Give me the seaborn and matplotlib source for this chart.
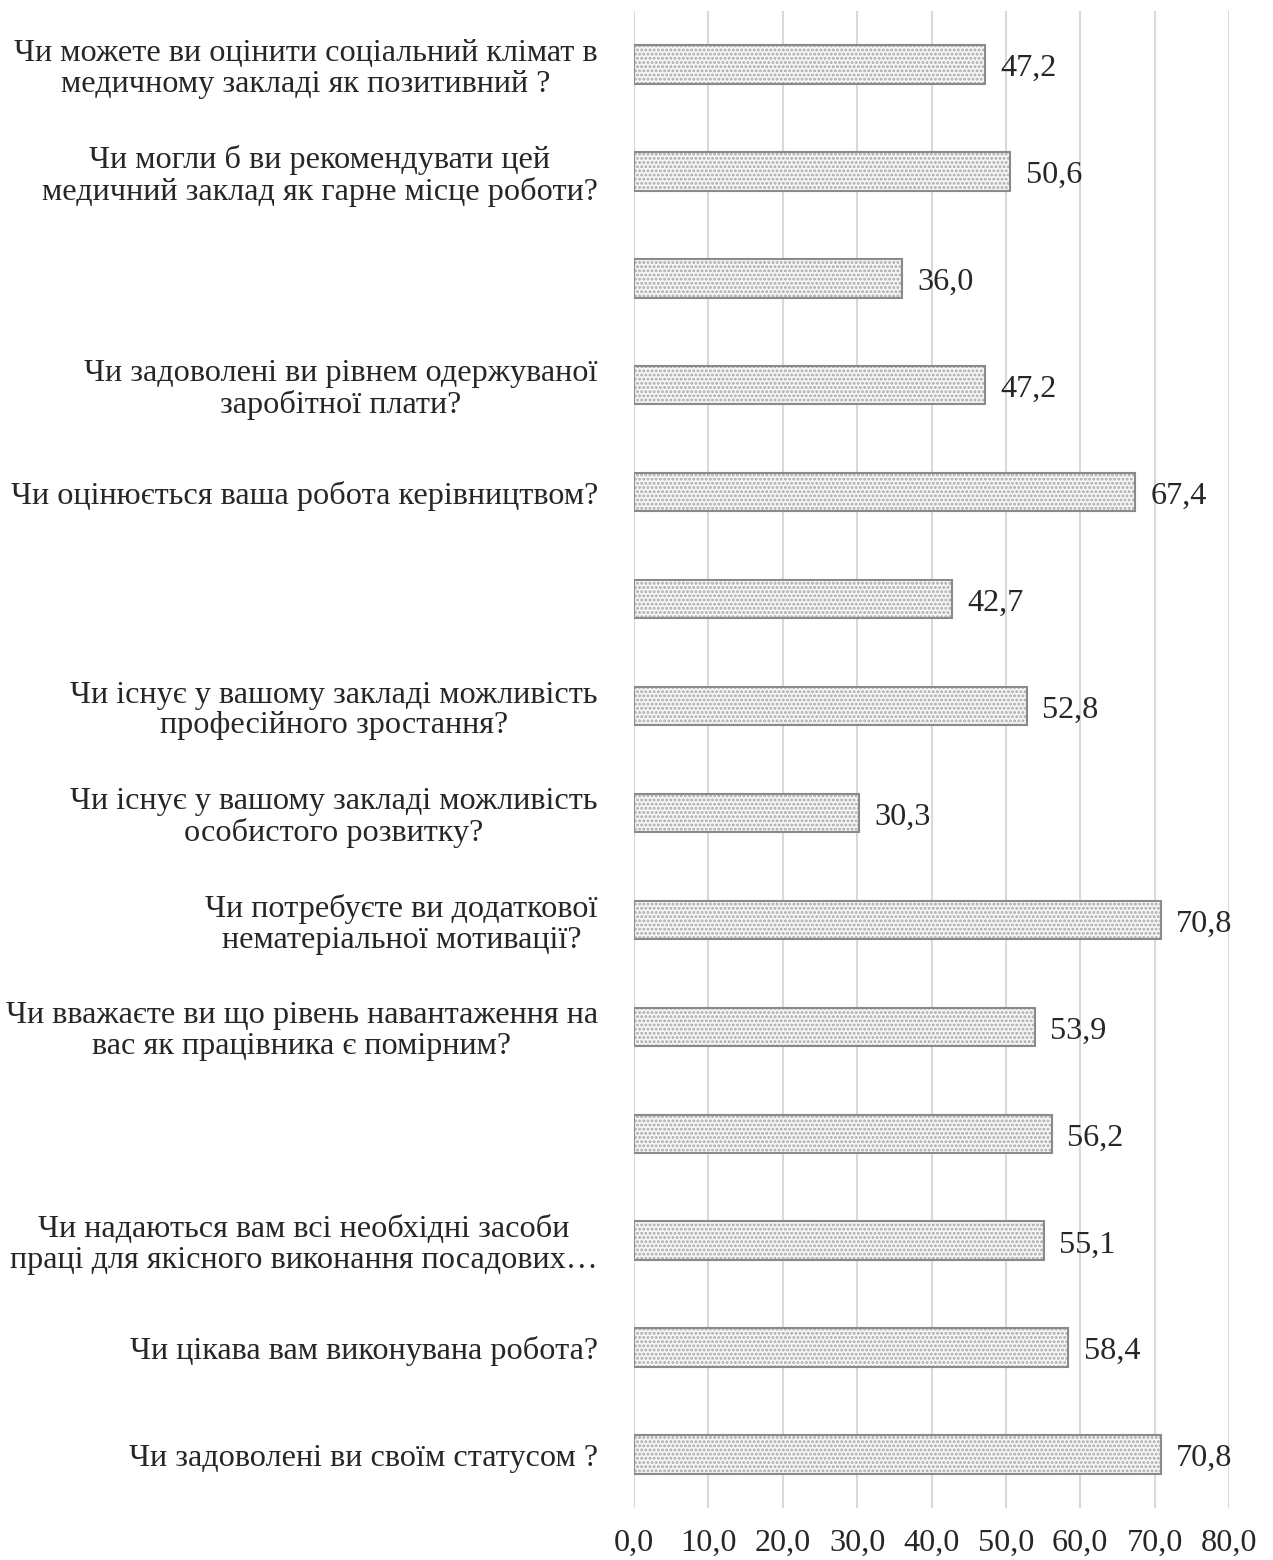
import numpy as np
import pandas as pd
import seaborn as sns
import matplotlib.pyplot as plt

# survey questions (top to bottom), some labels are empty in the original
questions = [
    "Чи можете ви оцінити соціальний клімат в\nмедичному закладі як позитивний ?",
    "Чи могли б ви рекомендувати цей\nмедичний заклад як гарне місце роботи?",
    "",
    "Чи задоволені ви рівнем одержуваної\nзаробітної плати?",
    "Чи оцінюється ваша робота керівництвом?",
    "",
    "Чи існує у вашому закладі можливість\nпрофесійного зростання?",
    "Чи існує у вашому закладі можливість\nособистого розвитку?",
    "Чи потребуєте ви додаткової\nнематеріальної мотивації?",
    "Чи вважаєте ви що рівень навантаження на\nвас як працівника є помірним?",
    "",
    "Чи надаються вам всі необхідні засоби\nпраці для якісного виконання посадових…",
    "Чи цікава вам виконувана робота?",
    "Чи задоволені ви своїм статусом ?",
]
values = [47.2, 50.6, 36.0, 47.2, 67.4, 42.7, 52.8, 30.3, 70.8, 53.9, 56.2, 55.1, 58.4, 70.8]
x_ticks = [0, 10, 20, 30, 40, 50, 60, 70, 80]

keys = ["q%d" % i for i in range(len(questions))]
df = pd.DataFrame({"key": keys, "value": values})

sns.set_style("white")
plt.rcParams['font.family'] = ['Liberation Serif', 'DejaVu Serif']
plt.rcParams['hatch.linewidth'] = 1.4

fs = 23.2

fig = plt.figure(figsize=(12.73, 15.6), dpi=100)
ax = fig.add_axes([0.498, 0.0333, 0.4675, 0.9597])

# dotted fill layer
sns.barplot(data=df, x="value", y="key", orient="h", order=keys, width=0.36,
            color="#f6f6f6", edgecolor="#a8a8a8", hatch="....", linewidth=0, ax=ax)
# outline layer
sns.barplot(data=df, x="value", y="key", orient="h", order=keys, width=0.36,
            fill=False, edgecolor="#8a8a8a", linewidth=1.5, ax=ax)

for i, v in enumerate(values):
    ax.annotate(("%.1f" % v).replace(".", ","), (v, i), xytext=(11, -3),
                textcoords="offset points", va="center", ha="left", fontsize=fs)

ax.set_xlim(0, 80)
ax.set_ylim(len(values) - 0.5, -0.5)
ax.set_xticks(x_ticks)
ax.set_xticklabels([("%.1f" % t).replace(".", ",") for t in x_ticks], fontsize=fs)
ax.set_yticks(range(len(questions)))
ax.set_yticklabels(questions, fontsize=fs, multialignment="center", linespacing=1.08)
ax.tick_params(axis="y", length=0, pad=26)
ax.tick_params(axis="x", length=0, pad=15)
ax.set_xlabel("")
ax.set_ylabel("")
ax.xaxis.grid(True, color="#d9d9d9", linewidth=1.5)
ax.set_axisbelow(True)
sns.despine(ax=ax, left=True, bottom=True)

plt.savefig("out.png", dpi=100)
